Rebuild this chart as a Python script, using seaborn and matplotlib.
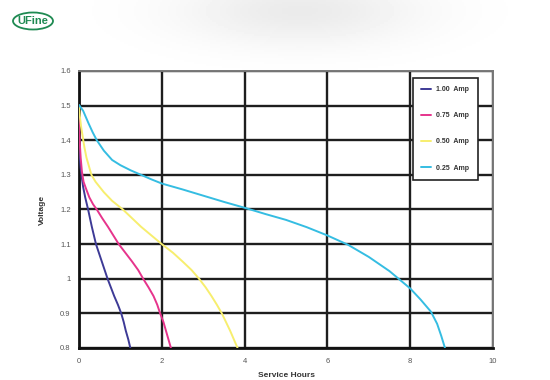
import numpy as np
import pandas as pd
import matplotlib
matplotlib.use("Agg")
import matplotlib.pyplot as plt
from matplotlib.patches import Ellipse
import seaborn as sns

# discharge curves
amp_100_h = [0, 0.02, 0.04, 0.07, 0.10, 0.15, 0.22, 0.31, 0.41, 0.48, 0.55, 0.62, 0.69, 0.77,
             0.85, 0.94, 1.02, 1.08, 1.13, 1.19, 1.24]
amp_100_v = [1.38, 1.35, 1.32, 1.29, 1.265, 1.235, 1.20, 1.15, 1.10, 1.075, 1.05, 1.025, 1.00, 0.975,
             0.95, 0.925, 0.90, 0.875, 0.85, 0.825, 0.80]

amp_075_h = [0, 0.005, 0.01, 0.02, 0.04, 0.07, 0.11, 0.17, 0.25, 0.34, 0.43, 0.56, 0.70, 0.83,
             0.96, 1.12, 1.28, 1.43, 1.55, 1.68, 1.80, 1.89, 1.96, 2.04, 2.10, 2.16, 2.22]
amp_075_v = [1.50, 1.46, 1.42, 1.39, 1.35, 1.31, 1.28, 1.26, 1.235, 1.215, 1.20, 1.175, 1.15, 1.125,
             1.10, 1.075, 1.05, 1.025, 1.00, 0.975, 0.95, 0.925, 0.90, 0.875, 0.85, 0.825, 0.80]

amp_050_h = [0, 0.02, 0.05, 0.09, 0.13, 0.18, 0.24, 0.30, 0.40, 0.50, 0.60, 0.80, 1.06, 1.28,
             1.50, 1.75, 2.00, 2.27, 2.50, 2.72, 2.90, 3.06, 3.20, 3.33, 3.45, 3.55, 3.65, 3.74, 3.83]
amp_050_v = [1.50, 1.47, 1.44, 1.41, 1.38, 1.35, 1.325, 1.30, 1.28, 1.265, 1.25, 1.225, 1.20, 1.175,
             1.15, 1.125, 1.10, 1.075, 1.05, 1.025, 1.00, 0.975, 0.95, 0.925, 0.90, 0.875, 0.85, 0.825, 0.80]

amp_025_h = [0, 0.10, 0.23, 0.33, 0.43, 0.60, 0.80, 1.00, 1.25, 1.50, 1.75, 2.00, 2.50, 3.00,
             3.50, 4.00, 4.50, 5.00, 5.50, 6.00, 6.50, 7.00, 7.50, 8.00, 8.25, 8.50, 8.65, 8.75, 8.84]
amp_025_v = [1.502, 1.485, 1.449, 1.423, 1.40, 1.37, 1.343, 1.328, 1.313, 1.30, 1.287, 1.275, 1.258, 1.24,
             1.222, 1.205, 1.187, 1.17, 1.149, 1.125, 1.098, 1.063, 1.022, 0.972, 0.94, 0.905, 0.87, 0.835, 0.80]

series_names = ["1.00  Amp", "0.75  Amp", "0.50  Amp", "0.25  Amp"]
series_colors = ["#3d3a96", "#e6348c", "#f7ee6e", "#35bde2"]

x_ticks = [0, 2, 4, 6, 8, 10]
y_ticks = [0.8, 0.9, 1.0, 1.1, 1.2, 1.3, 1.4, 1.5, 1.6]
y_tick_labels = ["0.8", "0.9", "1", "1.1", "1.2", "1.3", "1.4", "1.5", "1.6"]

rows = []
for name, hs, vs in zip(series_names,
                        [amp_100_h, amp_075_h, amp_050_h, amp_025_h],
                        [amp_100_v, amp_075_v, amp_050_v, amp_025_v]):
    for h, v in zip(hs, vs):
        rows.append({"Current": name, "Hours": h, "Voltage": v})
df = pd.DataFrame(rows)

sns.set_style("white")
plt.rcParams["font.family"] = ["Liberation Sans", "DejaVu Sans"]

fig = plt.figure(figsize=(5.5, 3.8), dpi=100)

# faded grey blob behind the top of the picture
bg = fig.add_axes([0, 0, 1, 1], zorder=-10)
gx, gy = np.meshgrid(np.linspace(0, 550, 275), np.linspace(0, 380, 190))
blob = np.exp(-(((gx - 300) / 120) ** 2 + ((gy - 10) / 35) ** 2))
bg.imshow(1 - 0.08 * blob, cmap="gray", vmin=0, vmax=1, extent=[0, 550, 380, 0], aspect="auto")
bg.set_xlim(0, 550)
bg.set_ylim(380, 0)
bg.axis("off")

ax = fig.add_axes([79 / 550, 1 - 348 / 380, 414 / 550, 277 / 380])
sns.lineplot(data=df, x="Hours", y="Voltage", hue="Current", palette=dict(zip(series_names, series_colors)),
             sort=False, estimator=None, linewidth=1.4, ax=ax, zorder=5)

ax.set_xlim(0, 10)
ax.set_ylim(0.8, 1.6)
ax.set_xticks(x_ticks)
ax.set_xticklabels([str(t) for t in x_ticks])
ax.set_yticks(y_ticks)
ax.set_yticklabels(y_tick_labels)
ax.grid(True, color="#1e1e1e", linewidth=1.7)
ax.set_axisbelow(True)
ax.tick_params(length=0, labelsize=5.5, labelcolor="#555555")
ax.tick_params(axis="x", pad=7)
ax.tick_params(axis="y", pad=6)
for side in ["left", "bottom"]:
    ax.spines[side].set_color("#111111")
    ax.spines[side].set_linewidth(2)
for side in ["top", "right"]:
    ax.spines[side].set_color("#777777")
    ax.spines[side].set_linewidth(1.4)
ax.set_xlabel("Service Hours", fontsize=6, fontweight="bold", color="#333333", labelpad=5)
ax.set_ylabel("Voltage", fontsize=6, fontweight="bold", color="#333333", labelpad=10)

handles, labels = ax.get_legend_handles_labels()
leg = ax.legend(handles, labels, loc="upper left", bbox_to_anchor=(0.807, 0.975), fontsize=5,
                frameon=True, fancybox=False, edgecolor="#222222", framealpha=1,
                labelspacing=2.75, handlelength=1.4, handletextpad=0.75, borderpad=1.2,
                borderaxespad=0)
leg.get_frame().set_linewidth(1.2)
for t in leg.get_texts():
    t.set_fontweight("bold")
    t.set_color("#333333")
leg.set_zorder(10)

# logo
fig.patches.append(Ellipse((33, 21), 40, 17, transform=bg.transData, fill=False,
                           edgecolor="#1f8a52", linewidth=1.3))
fig.text(33 / 550, 1 - 21 / 380, "UFine", ha="center", va="center", fontsize=8,
         fontweight="bold", color="#1f8a52")

fig.savefig("out.png", dpi=100)
